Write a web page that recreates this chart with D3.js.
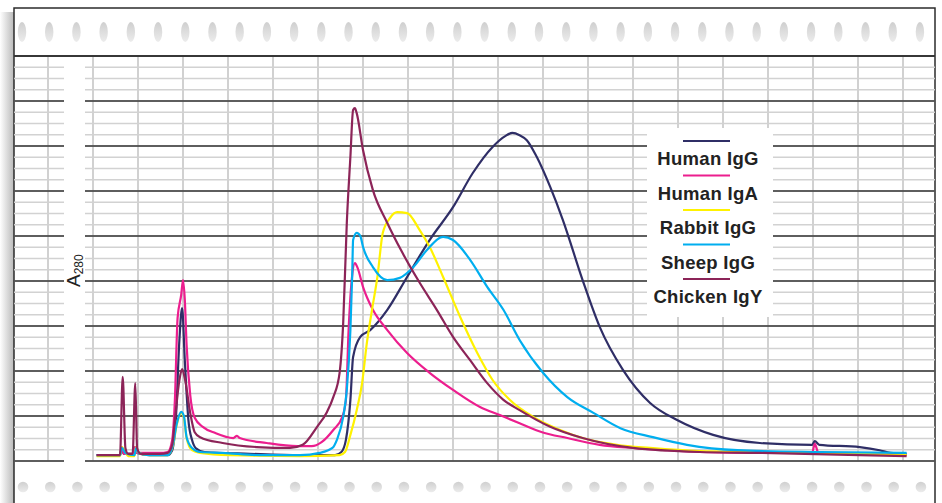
<!DOCTYPE html>
<html>
<head>
<meta charset="utf-8">
<script src="https://cdn.jsdelivr.net/npm/d3@7"></script>
<style>
  body { margin: 0; background: #fff; }
  svg { display: block; }
  .legendText { font-family: "Liberation Sans", Arial, sans-serif; font-weight: bold; font-size: 18.5px; letter-spacing: 0.3px; fill: #222; }
  .axisLabel { font-family: "Liberation Sans", Arial, sans-serif; fill: #222; }
</style>
</head>
<body>
<svg></svg>
<script>
//Series names and colours (legend order)
const seriesNames = ["Human IgG", "Human IgA", "Rabbit IgG", "Sheep IgG", "Chicken IgY"];
const seriesColors = ["#2f2e66", "#ec1e8e", "#fff200", "#00aeef", "#8c2458"];

//Elution volume (mL) and A280, one array per sample
const humanIgG = [
  [0.4,0.013],[3.0,0.013],[3.2,0.029],[3.4,0.016],[4.4,0.016],[4.7,0.031],[4.9,0.018],[6.3,0.013],
  [8.3,0.013],[8.8,0.024],[9.2,0.091],[9.6,0.269],[9.9,0.340],[10.2,0.224],[10.6,0.091],[11.0,0.047],
  [11.4,0.029],[12.4,0.020],[17.4,0.016],[23.0,0.013],[26.9,0.013],[27.6,0.020],[28.1,0.047],[28.6,0.136],
  [28.9,0.231],[29.7,0.276],[30.8,0.291],[32.7,0.336],[34.9,0.409],[37.4,0.491],[40.0,0.564],[42.2,0.640],
  [44.4,0.698],[45.8,0.722],[46.6,0.729],[47.4,0.724],[48.2,0.713],[49.3,0.676],[50.8,0.609],[52.2,0.536],
  [54.4,0.402],[56.3,0.298],[58.9,0.202],[61.9,0.129],[64.9,0.091],[68.9,0.058],[74.1,0.040],[79.9,0.036],
  [80.2,0.044],[80.7,0.036],[85.2,0.031],[87.4,0.024],[88.6,0.018],[90.4,0.016]
];
const humanIgA = [
  [0.4,0.013],[3.0,0.013],[3.2,0.031],[3.4,0.016],[4.4,0.016],[4.7,0.031],[4.9,0.018],[7.4,0.018],
  [8.3,0.020],[8.8,0.047],[9.1,0.136],[9.4,0.318],[9.8,0.369],[10.0,0.402],[10.2,0.358],[10.4,0.258],
  [10.8,0.147],[11.3,0.096],[12.2,0.076],[13.6,0.062],[15.6,0.051],[16.0,0.056],[16.3,0.051],[19.3,0.040],
  [22.7,0.033],[24.3,0.033],[25.4,0.042],[26.7,0.069],[27.7,0.098],[28.1,0.136],[28.4,0.291],[28.8,0.413],
  [29.1,0.440],[29.4,0.429],[30.0,0.387],[31.1,0.336],[32.7,0.291],[34.9,0.240],[37.4,0.196],[40.0,0.158],
  [43.0,0.120],[45.2,0.102],[47.4,0.084],[49.9,0.064],[52.7,0.051],[56.3,0.036],[60.0,0.029],[63.8,0.024],
  [67.4,0.020],[74.1,0.018],[79.9,0.018],[80.2,0.038],[80.6,0.018],[85.2,0.016],[90.4,0.013]
];
const rabbitIgG = [
  [0.4,0.011],[3.0,0.011],[3.2,0.031],[3.6,0.020],[3.9,0.011],[4.6,0.011],[4.8,0.031],[5.1,0.018],
  [6.3,0.013],[8.3,0.013],[8.9,0.036],[9.3,0.080],[9.8,0.107],[10.1,0.096],[10.4,0.051],[11.0,0.024],
  [11.9,0.018],[15.2,0.013],[23.0,0.011],[27.4,0.013],[28.0,0.020],[28.6,0.058],[29.3,0.113],[29.9,0.173],
  [30.4,0.258],[31.0,0.336],[31.6,0.409],[32.2,0.507],[33.0,0.540],[33.8,0.553],[34.9,0.551],[36.3,0.513],
  [37.4,0.476],[38.9,0.409],[40.8,0.320],[42.7,0.240],[44.4,0.180],[46.3,0.136],[48.9,0.098],[51.9,0.069],
  [54.4,0.051],[58.2,0.036],[61.9,0.029],[67.4,0.022],[74.1,0.020],[79.9,0.018],[85.2,0.016],[90.4,0.013]
];
const sheepIgG = [
  [0.4,0.013],[3.0,0.013],[3.2,0.029],[3.6,0.018],[4.6,0.013],[4.8,0.029],[5.1,0.018],[6.3,0.013],
  [8.3,0.013],[8.9,0.038],[9.3,0.082],[9.8,0.109],[10.1,0.100],[10.4,0.053],[11.0,0.029],[11.9,0.020],
  [14.4,0.018],[18.6,0.013],[23.0,0.013],[25.2,0.018],[26.6,0.029],[27.1,0.047],[27.8,0.098],[28.2,0.158],
  [28.6,0.291],[28.8,0.413],[28.9,0.491],[29.3,0.507],[29.7,0.500],[30.0,0.476],[31.1,0.431],[32.7,0.402],
  [34.1,0.407],[35.6,0.431],[37.1,0.469],[38.9,0.498],[40.0,0.491],[41.9,0.447],[43.8,0.387],[45.6,0.336],
  [47.4,0.269],[50.0,0.196],[52.7,0.142],[55.6,0.107],[58.6,0.073],[62.2,0.053],[66.0,0.036],[71.6,0.024],
  [80.8,0.020],[90.4,0.018]
];
const chickenIgY = [
  [0.4,0.013],[3.0,0.013],[3.3,0.187],[3.6,0.029],[3.9,0.016],[4.4,0.016],[4.7,0.173],[4.9,0.029],
  [5.3,0.016],[7.4,0.016],[8.3,0.018],[8.8,0.036],[9.1,0.091],[9.6,0.180],[9.9,0.204],[10.2,0.184],
  [10.8,0.107],[11.3,0.064],[11.9,0.053],[14.4,0.040],[18.2,0.031],[21.9,0.029],[23.3,0.036],[24.9,0.076],
  [26.0,0.109],[26.7,0.142],[27.4,0.196],[27.8,0.307],[28.2,0.529],[28.6,0.676],[28.9,0.780],[29.1,0.784],
  [29.3,0.773],[30.0,0.691],[31.1,0.602],[32.7,0.529],[34.4,0.462],[36.3,0.396],[38.2,0.336],[40.0,0.276],
  [41.9,0.224],[43.8,0.173],[45.6,0.136],[47.4,0.113],[50.8,0.076],[54.4,0.051],[60.0,0.029],[67.4,0.020],
  [74.1,0.018],[85.2,0.013],[90.4,0.011]
];
const seriesData = [humanIgG, humanIgA, rabbitIgG, sheepIgG, chickenIgY];

//Grid ticks
const xGridTicks = d3.range(-5, 95, 5);
const yMajorTicks = d3.range(0, 0.91, 0.1);
const yMinorTicks = d3.range(0, 0.901, 0.025);

drawChart();

function drawChart(){
  const w = 942;
  const h = 503;
  const paper = { left: 14, right: 935, top: 8, gridTop: 56, gridBottom: 461 };

  //Scales
  const xScale = d3.scaleLinear().domain([0, 90]).range([93, 903]);
  const yScale = d3.scaleLinear().domain([0, 0.9]).range([461, 56]);

  //Chart Setup
  const chart = d3.select("svg")
                  .attr("width", w)
                  .attr("height", h);

  const defs = chart.append("defs");
  const shadow = defs.append("linearGradient").attr("id", "shadow");
  shadow.append("stop").attr("offset", "0%").attr("stop-color", "#ffffff");
  shadow.append("stop").attr("offset", "100%").attr("stop-color", "#b9b9b9");

  const hole = defs.append("linearGradient").attr("id", "hole")
                   .attr("x1", 0).attr("y1", 0).attr("x2", 0).attr("y2", 1);
  hole.append("stop").attr("offset", "0%").attr("stop-color", "#cfcfcf");
  hole.append("stop").attr("offset", "100%").attr("stop-color", "#ececec");

  //Paper shadow on the left
  chart.append("rect")
       .attr("x", 0).attr("y", 12)
       .attr("width", paper.left).attr("height", h - 12)
       .attr("fill", "url(#shadow)");

  //Paper
  chart.append("rect")
       .attr("x", paper.left).attr("y", paper.top)
       .attr("width", paper.right - paper.left).attr("height", h - paper.top + 5)
       .attr("fill", "#fff")
       .attr("stroke", "#2b2b2b")
       .attr("stroke-width", 1.5);

  //Sprocket holes
  const holeX = d3.range(0, 34).map((i) => 22 + i * 27.21);
  chart.append("g").selectAll("ellipse")
       .data(holeX).enter().append("ellipse")
       .attr("cx", (d) => d).attr("cy", 32)
       .attr("rx", 4.2).attr("ry", 10)
       .attr("fill", "url(#hole)");
  chart.append("g").selectAll("circle")
       .data(holeX).enter().append("circle")
       .attr("cx", (d) => d + 1).attr("cy", 487)
       .attr("r", 5.3)
       .attr("fill", "url(#hole)");

  //Grid Setup
  const grid = chart.append("g");
  grid.selectAll(".vline")
      .data(xGridTicks).enter().append("line")
      .attr("x1", (d) => xScale(d)).attr("x2", (d) => xScale(d))
      .attr("y1", paper.gridTop).attr("y2", paper.gridBottom)
      .attr("stroke", "#c2c2c2").attr("stroke-width", 1.5);

  grid.selectAll(".hminor")
      .data(yMinorTicks).enter().append("line")
      .attr("x1", paper.left).attr("x2", paper.right)
      .attr("y1", (d) => yScale(d)).attr("y2", (d) => yScale(d))
      .attr("stroke", "#d2d2d2").attr("stroke-width", 1.5);

  grid.selectAll(".hmajor")
      .data(yMajorTicks).enter().append("line")
      .attr("x1", paper.left).attr("x2", paper.right)
      .attr("y1", (d) => yScale(d)).attr("y2", (d) => yScale(d))
      .attr("stroke", "#333").attr("stroke-width", 1.3);

  //Top edge of grid
  grid.append("line")
      .attr("x1", paper.left).attr("x2", paper.right)
      .attr("y1", paper.gridTop).attr("y2", paper.gridTop)
      .attr("stroke", "#2b2b2b").attr("stroke-width", 1.5);

  //Gap for the axis label
  chart.append("rect")
       .attr("x", 64).attr("y", paper.gridTop + 1)
       .attr("width", 21).attr("height", paper.gridBottom - paper.gridTop + 1)
       .attr("fill", "#fff");

  const label = chart.append("text")
       .classed("axisLabel", true)
       .attr("transform", "translate(80, 287) rotate(-90)")
       .attr("font-size", 19);
  label.append("tspan").text("A");
  label.append("tspan").attr("font-size", 12).attr("dy", 3).text("280");

  //Traces
  const line = d3.line()
                 .x((d) => xScale(d[0]))
                 .y((d) => yScale(d[1]))
                 .curve(d3.curveMonotoneX);

  chart.append("g").selectAll("path")
       .data(seriesData).enter().append("path")
       .attr("d", line)
       .attr("fill", "none")
       .attr("stroke", (d, i) => seriesColors[i])
       .attr("stroke-width", 2.2)
       .attr("stroke-linejoin", "round");

  //Legend Setup
  const legend = chart.append("g").attr("id", "legend");
  legend.append("rect")
        .attr("x", 647).attr("y", 128)
        .attr("width", 126).attr("height", 189)
        .attr("fill", "#fff");

  const item = legend.selectAll(".item")
                     .data(seriesNames).enter().append("g")
                     .attr("transform", (d, i) => `translate(0, ${141 + i * 34.5})`);

  item.append("line")
      .attr("x1", 683).attr("x2", 730)
      .attr("y1", 0).attr("y2", 0)
      .attr("stroke", (d, i) => seriesColors[i])
      .attr("stroke-width", 2);

  item.append("text")
      .classed("legendText", true)
      .attr("x", 708).attr("y", 24)
      .attr("text-anchor", "middle")
      .text((d) => d);
};
</script>
</body>
</html>
